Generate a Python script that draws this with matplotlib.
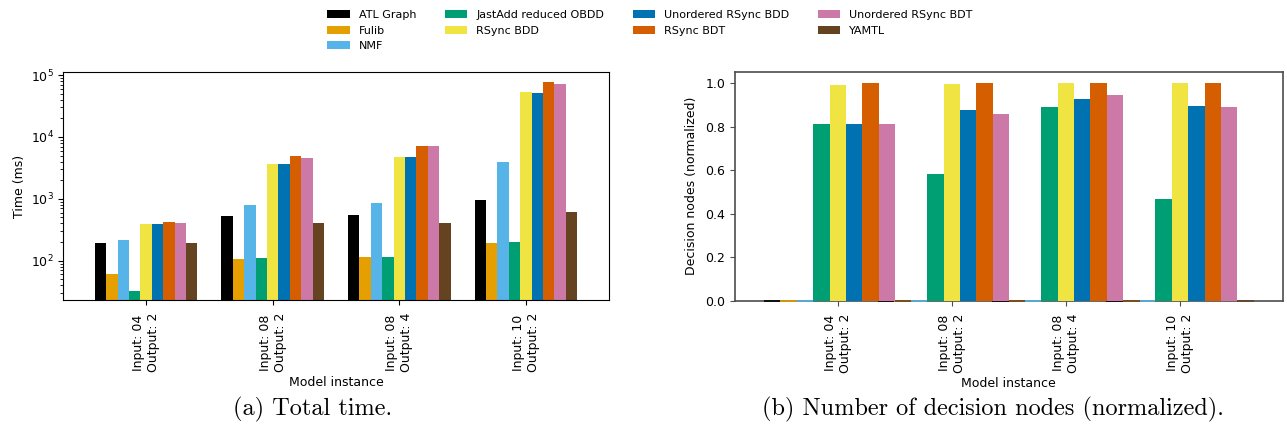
import matplotlib
matplotlib.use("Agg")
import matplotlib.pyplot as plt
import numpy as np

instances = ["Input: 04\nOutput: 2", "Input: 08\nOutput: 2", "Input: 08\nOutput: 4", "Input: 10\nOutput: 2"]
tools = ["ATL Graph", "Fulib", "NMF", "JastAdd reduced OBDD", "RSync BDD",
         "Unordered RSync BDD", "RSync BDT", "Unordered RSync BDT", "YAMTL"]
colors = ["#000000", "#E69F00", "#56B4E9", "#009E73", "#F0E442",
          "#0072B2", "#D55E00", "#CC79A7", "#654321"]

# Total time (ms), one list per tool, values per instance
time_atl = [193, 518, 557, 939]
time_fulib = [61.5, 108, 116, 196]
time_nmf = [219, 809, 871, 3880]
time_jastadd = [32.6, 112, 116, 203]
time_rsync_bdd = [398, 3600, 4680, 52900]
time_unord_bdd = [398, 3600, 4680, 51000]
time_rsync_bdt = [428, 4850, 7060, 76900]
time_unord_bdt = [413, 4500, 7060, 71400]
time_yamtl = [193, 413, 413, 623]

# Decision nodes (normalized)
nodes_atl = [0, 0, 0, 0]
nodes_fulib = [0, 0, 0, 0]
nodes_nmf = [0, 0, 0, 0]
nodes_jastadd = [0.811, 0.582, 0.889, 0.467]
nodes_rsync_bdd = [0.989, 0.994, 1.0, 1.0]
nodes_unord_bdd = [0.811, 0.875, 0.925, 0.893]
nodes_rsync_bdt = [1.0, 1.0, 0.998, 0.998]
nodes_unord_bdt = [0.811, 0.856, 0.943, 0.889]
nodes_yamtl = [0, 0, 0, 0]

times = [time_atl, time_fulib, time_nmf, time_jastadd, time_rsync_bdd,
         time_unord_bdd, time_rsync_bdt, time_unord_bdt, time_yamtl]
nodes = [nodes_atl, nodes_fulib, nodes_nmf, nodes_jastadd, nodes_rsync_bdd,
         nodes_unord_bdd, nodes_rsync_bdt, nodes_unord_bdt, nodes_yamtl]

plt.rcParams['font.family'] = ['DejaVu Sans']
plt.rcParams['font.size'] = 9

fig = plt.figure(figsize=(12.87, 4.32), dpi=100)
ax1 = fig.add_axes([63.3/1287, (432-300.3)/432, 545.4/1287, 228.3/432])
ax2 = fig.add_axes([735/1287, (432-301)/432, 547.7/1287, 229.5/432])

x = np.arange(len(instances))

# Left: total time
w1 = 0.09
handles = []
for i, (name, vals, c) in enumerate(zip(tools, times, colors)):
    h = ax1.bar(x + (i - 4) * w1, vals, width=w1, color=c, label=name, linewidth=0)
    handles.append(h)
ax1.set_yscale('log')
ax1.set_ylim(22.9, 1.12e5)
ax1.set_xlim(-0.653, 3.653)
ax1.set_xticks(x)
ax1.set_xticklabels(instances, rotation=90)
ax1.tick_params(axis='x', pad=5.5)
ax1.set_ylabel("Time (ms)", labelpad=3)
ax1.set_xlabel("Model instance", labelpad=3)

# Right: decision nodes
w2 = 0.1435
for i, (name, vals, c) in enumerate(zip(tools, nodes, colors)):
    lws = [1.2 if v == 0 else 0 for v in vals]
    ax2.bar(x + (i - 4) * w2, vals, width=w2, color=c, edgecolor=c, linewidth=lws, zorder=3,
            clip_on=False)
ax2.set_ylim(0, 1.053)
ax2.set_xlim(-0.90, 3.90)
ax2.set_xticks(x)
ax2.set_xticklabels(instances, rotation=90)
ax2.tick_params(axis='x', pad=5.5)
ax2.set_yticks([0.0, 0.2, 0.4, 0.6, 0.8, 1.0])
ax2.set_ylabel("Decision nodes (normalized)", labelpad=5)
ax2.set_xlabel("Model instance", labelpad=3)
for sp in ax2.spines.values():
    sp.set_color('0.3')
    sp.set_linewidth(1.2)
ax2.tick_params(color='0.3')

fig.legend(handles=handles, labels=tools, ncol=4, loc='upper center',
           bbox_to_anchor=(0.505, 1.0), frameon=False, fontsize=8,
           handlelength=2.0, columnspacing=2.6, labelspacing=0.5)

fig.text(313/1287, 1 - 409/432, "(a) Total time.", family='cmr10', fontsize=17.5,
         ha='center', va='center')
fig.text(993/1287, 1 - 409/432, "(b) Number of decision nodes (normalized).", family='cmr10',
         fontsize=17.5, ha='center', va='center')

fig.savefig("out.png", dpi=100)
